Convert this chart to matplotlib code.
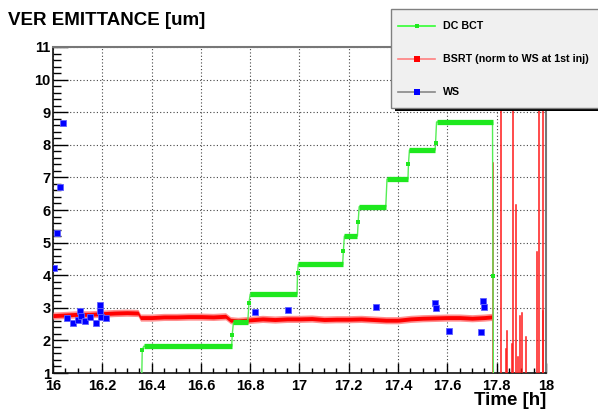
import numpy as np
import matplotlib
matplotlib.use("Agg")
import matplotlib.pyplot as plt
from matplotlib.patches import Rectangle
from matplotlib.lines import Line2D
from matplotlib.ticker import MultipleLocator

plt.rcParams["font.family"] = ["Liberation Sans", "DejaVu Sans"]
plt.rcParams["font.weight"] = "bold"

# DC BCT trace: plateau ends and the transition samples between them
bct_t = [16.358, 16.362, 16.368, 16.725, 16.727, 16.732, 16.790, 16.795,
         16.800, 16.990, 16.992, 16.995, 17.175, 17.178, 17.182, 17.235,
         17.238, 17.242, 17.350, 17.355, 17.440, 17.442, 17.446, 17.550,
         17.552, 17.556, 17.783, 17.785, 17.787]
bct_v = [0.0, 1.70, 1.82, 1.82, 2.17, 2.55, 2.55, 3.15,
         3.42, 3.42, 4.07, 4.33, 4.33, 4.74, 5.20, 5.20,
         5.63, 6.10, 6.10, 6.95, 6.95, 7.41, 7.84, 7.84,
         8.06, 8.70, 8.70, 3.97, 0.0]

# BSRT (normalised to WS at first injection): band centre while beam is in
bsrt_t = [16.00, 16.05, 16.10, 16.15, 16.20, 16.25, 16.30, 16.345, 16.355,
          16.40, 16.45, 16.50, 16.55, 16.60, 16.65, 16.70, 16.72, 16.75,
          16.80, 16.85, 16.90, 16.95, 17.00, 17.05, 17.10, 17.15, 17.20,
          17.25, 17.30, 17.35, 17.40, 17.45, 17.50, 17.55, 17.60, 17.65,
          17.70, 17.75, 17.78]
bsrt_v = [2.76, 2.78, 2.80, 2.80, 2.82, 2.84, 2.85, 2.84, 2.70,
          2.70, 2.72, 2.72, 2.73, 2.73, 2.72, 2.74, 2.62, 2.60,
          2.63, 2.66, 2.64, 2.66, 2.66, 2.67, 2.64, 2.65, 2.65,
          2.66, 2.64, 2.62, 2.62, 2.66, 2.68, 2.69, 2.70, 2.70,
          2.68, 2.70, 2.72]
bsrt_spread = 0.06

# BSRT after the dump: isolated spikes
spike_t = [17.784, 17.816, 17.837, 17.840, 17.862, 17.865, 17.878, 17.886,
           17.893, 17.903, 17.919, 17.962, 17.973, 17.987, 17.989]
spike_v = [7.44, 12.0, 1.74, 2.30, 1.90, 12.0, 6.15, 1.50,
           2.75, 2.84, 2.10, 4.70, 12.0, 12.0, 2.90]

# wire scanner measurements
ws_t = [16.004, 16.016, 16.028, 16.040, 16.055, 16.080, 16.100, 16.110,
        16.112, 16.130, 16.150, 16.175, 16.190, 16.192, 16.195, 16.215,
        16.820, 16.955, 17.310, 17.550, 17.552, 17.605, 17.735, 17.745,
        17.747]
ws_v = [4.22, 5.30, 6.70, 8.67, 2.69, 2.53, 2.63, 2.90,
        2.75, 2.60, 2.72, 2.53, 3.08, 2.90, 2.72, 2.68,
        2.87, 2.93, 3.02, 3.15, 3.00, 2.29, 2.27, 3.22,
        3.03]

green = "#1ee81e"
W, H = 598, 411

fig = plt.figure(figsize=(W / 100, H / 100), dpi=100)
ax = fig.add_axes([53 / W, 1 - 373 / H, 493 / W, 326 / H])

# red band
lo = np.array(bsrt_v) - bsrt_spread
hi = np.array(bsrt_v) + bsrt_spread
ax.fill_between(bsrt_t, lo - 0.05, hi + 0.05, color="#ff9090", lw=0, zorder=3)
ax.fill_between(bsrt_t, lo, hi, color="#ff0000", lw=0, zorder=3)
for t, v in zip(spike_t, spike_v):
    ax.plot([t, t], [0, v], color="#ff1a1a", lw=1.1, zorder=3)

# DC BCT: thin connecting line, thick plateaus, small markers on steps
ax.plot(bct_t, bct_v, color="#55ee55", lw=1.0, zorder=4)
for i in range(len(bct_t) - 1):
    if bct_v[i] == bct_v[i + 1] and bct_v[i] > 0:
        ax.plot([bct_t[i], bct_t[i + 1]], [bct_v[i], bct_v[i + 1]],
                color=green, lw=3.8, solid_capstyle="butt", zorder=4)
step_t = [t for i, t in enumerate(bct_t)
          if 0 < i < len(bct_t) - 1 and bct_v[i] not in (bct_v[i - 1], bct_v[i + 1])]
step_v = [v for i, v in enumerate(bct_v)
          if 0 < i < len(bct_v) - 1 and v not in (bct_v[i - 1], bct_v[i + 1])]
ax.plot(step_t, step_v, "s", color=green, ms=3, mew=0, zorder=4)

ax.plot(ws_t, ws_v, "s", color="#0000ff", mec="#6060ff", mew=0.6, ms=4.8,
        ls="none", zorder=5)

ax.set_xlim(16, 18)
ax.set_ylim(1, 11)
ax.xaxis.set_major_locator(MultipleLocator(0.2))
ax.xaxis.set_minor_locator(MultipleLocator(0.05))
ax.yaxis.set_major_locator(MultipleLocator(1))
ax.yaxis.set_minor_locator(MultipleLocator(0.2))
ax.set_xticks(np.arange(16, 18.01, 0.2))
ax.set_xticklabels(["16", "16.2", "16.4", "16.6", "16.8", "17",
                    "17.2", "17.4", "17.6", "17.8", "18"])
ax.tick_params(axis="y", which="major", direction="in", length=10.8, width=1,
               labelsize=10.5, pad=1.6)
ax.tick_params(axis="y", which="minor", direction="in", length=5.4, width=1)
ax.tick_params(axis="x", which="major", direction="in", length=7.2, width=1,
               labelsize=10.5, pad=4)
ax.tick_params(axis="x", which="minor", direction="in", length=3.6, width=1)
ax.grid(True, which="major", color="#444444", lw=0.8, ls=(0, (1, 2)))

for side in ("left", "bottom"):
    ax.spines[side].set_color("#111111")
    ax.spines[side].set_linewidth(1.2)
for side in ("top", "right"):
    ax.spines[side].set_color("#777777")
    ax.spines[side].set_linewidth(1.5)

fig.text(8 / W, 1 - 25 / H, "VER EMITTANCE [um]", fontsize=13.5,
         fontweight="bold", va="baseline", ha="left")
fig.text(546 / W, 1 - 405 / H, "Time [h]", fontsize=13.5,
         fontweight="bold", va="baseline", ha="right")

# legend box with drop shadow
def px(x, y):
    return x / W, 1 - y / H

fig.add_artist(Rectangle(px(395, 111), 230 / W, 99 / H, transform=fig.transFigure,
                         facecolor="black", edgecolor="none", zorder=10))
fig.add_artist(Rectangle(px(391, 108), 230 / W, 99 / H, transform=fig.transFigure,
                         facecolor="#f0f0f0", edgecolor="#808080", lw=1, zorder=11))

entries = [("DC BCT", "#33ff33", green, 3.2),
           ("BSRT (norm to WS at 1st inj)", "#ff8080", "#ff0000", 4.2),
           ("WS", "#888888", "#0000ff", 4.2)]
for k, (label, lc, mc, ms) in enumerate(entries):
    y = 26 + 33 * k
    x0, y0 = px(398, y)
    x1, _ = px(435, y)
    xm, _ = px(417, y)
    fig.add_artist(Line2D([x0, x1], [y0, y0], transform=fig.transFigure,
                          color=lc, lw=1.2, zorder=12))
    fig.add_artist(Line2D([xm], [y0], transform=fig.transFigure, marker="s",
                          color=mc, ms=ms, mew=0, zorder=12))
    fig.text(443 / W, y0, label, fontsize=7.7, fontweight="bold",
             va="center", ha="left", zorder=12)

fig.savefig("out.png", dpi=100)
